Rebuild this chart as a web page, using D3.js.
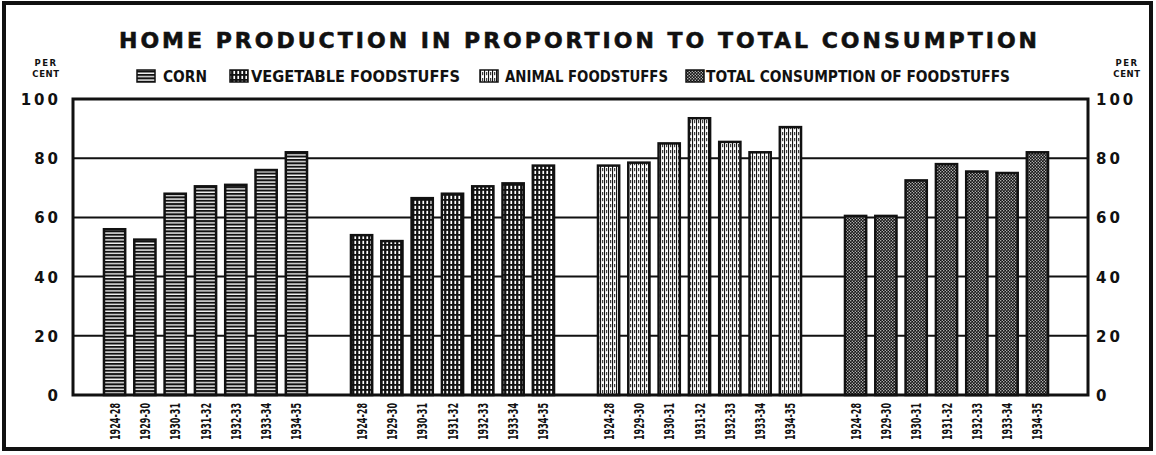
<!DOCTYPE html>
<html><head><meta charset="utf-8">
<script src="https://cdn.jsdelivr.net/npm/d3@7"></script>
<style>
html,body{margin:0;padding:0;background:#fff;}
svg{display:block;}
text{font-family:"DejaVu Sans",sans-serif;font-weight:bold;fill:#111;}
</style></head>
<body><svg id="c" width="1156" height="455"></svg>
<script>
const title = "HOME PRODUCTION IN PROPORTION TO TOTAL CONSUMPTION";
const categories = ["CORN","VEGETABLE FOODSTUFFS","ANIMAL FOODSTUFFS","TOTAL CONSUMPTION OF FOODSTUFFS"];
const periods = ["1924-28","1929-30","1930-31","1931-32","1932-33","1933-34","1934-35"];
const corn = [56,52.5,68,70.5,71,76,82];
const vegetable = [54,52,66.5,68,70.5,71.5,77.5];
const animal = [77.5,78.5,85,93.5,85.5,82,90.5];
const total = [60.5,60.5,72.5,78,75.5,75,82];
const yTicks = [0,20,40,60,80,100];
const seriesValues = [corn, vegetable, animal, total];
const patternIds = ["pCorn","pVeg","pAnim","pTot"];

const svg = d3.select("#c");
const defs = svg.append("defs");
// corn: horizontal stripes
let p = defs.append("pattern").attr("id","pCorn").attr("patternUnits","userSpaceOnUse").attr("width",4).attr("height",3.4);
p.append("rect").attr("width",4).attr("height",3.4).attr("fill","#111");
p.append("rect").attr("y",1.2).attr("width",4).attr("height",1.3).attr("fill","#fff");
// vegetable: white bricks on black
p = defs.append("pattern").attr("id","pVeg").attr("patternUnits","userSpaceOnUse").attr("width",4).attr("height",5);
p.append("rect").attr("width",4).attr("height",5).attr("fill","#111");
p.append("rect").attr("x",1.4).attr("y",0.8).attr("width",1.7).attr("height",3.2).attr("fill","#fff");
// animal: white with vertical dashed lines
p = defs.append("pattern").attr("id","pAnim").attr("patternUnits","userSpaceOnUse").attr("width",4).attr("height",6);
p.append("rect").attr("width",4).attr("height",6).attr("fill","#fff");
p.append("rect").attr("x",0).attr("y",0).attr("width",1.1).attr("height",6).attr("fill","#111");
p.append("rect").attr("x",2.2).attr("y",0).attr("width",1).attr("height",3.2).attr("fill","#111");
// total: fine dots, dark
p = defs.append("pattern").attr("id","pTot").attr("patternUnits","userSpaceOnUse").attr("width",3).attr("height",3);
p.append("rect").attr("width",3).attr("height",3).attr("fill","#111");
p.append("rect").attr("x",0.2).attr("y",0.2).attr("width",1.1).attr("height",1.1).attr("fill","#fff");
p.append("rect").attr("x",1.7).attr("y",1.7).attr("width",1.1).attr("height",1.1).attr("fill","#fff");

// outer frame
svg.append("rect").attr("x",4).attr("y",3).attr("width",1147).attr("height",446)
  .attr("fill","none").attr("stroke","#111").attr("stroke-width",4);

const L=73, R=1088, T=99, B=395;
const y = d3.scaleLinear().domain([0,100]).range([B,T]);
const gx = d3.scaleBand().domain(categories).range([82,1070]).padding(0);
const bx = d3.scaleBand().domain(periods).range([0,gx.bandwidth()]).paddingInner(0.3).paddingOuter(0.725);

// title
svg.append("text").attr("x",578).attr("y",48).attr("text-anchor","middle")
  .attr("font-size",22).attr("stroke","#111").attr("stroke-width",0.6)
  .attr("textLength",918).attr("lengthAdjust","spacing").text(title);

// legend
const legendX = [137, 230, 480, 686];
const legendTextX = [163, 251, 505, 706];
const legendTextLen = [44, 209, 163, 304];
categories.forEach((c,i)=>{
  svg.append("rect").attr("x",legendX[i]).attr("y",70).attr("width",18).attr("height",12)
    .attr("fill","url(#"+patternIds[i]+")").attr("stroke","#111").attr("stroke-width",1.5);
  svg.append("text").attr("x",legendTextX[i]).attr("y",82).attr("font-size",16)
    .attr("textLength",legendTextLen[i]).attr("lengthAdjust","spacingAndGlyphs").text(c);
});

// PER CENT
[46,1127].forEach(cx=>{
  svg.append("text").attr("x",cx).attr("y",66).attr("text-anchor","middle").attr("font-size",8.5)
    .attr("letter-spacing",1.5).text("PER");
  svg.append("text").attr("x",cx).attr("y",77).attr("text-anchor","middle").attr("font-size",8.5)
    .attr("letter-spacing",0.6).text("CENT");
});

// gridlines
svg.append("g").selectAll("line").data(yTicks.filter(d=>d>0&&d<100)).join("line")
  .attr("x1",L).attr("x2",R).attr("y1",d=>y(d)).attr("y2",d=>y(d))
  .attr("stroke","#111").attr("stroke-width",2);

// axes labels via d3 axes
const yAxL = d3.axisLeft(y).tickValues(yTicks).tickSize(0).tickPadding(12);
const gL = svg.append("g").attr("transform",`translate(${L},0)`).call(yAxL);
const yAxR = d3.axisRight(y).tickValues(yTicks).tickSize(0).tickPadding(8);
const gR = svg.append("g").attr("transform",`translate(${R},0)`).call(yAxR);
[gL,gR].forEach(g=>{
  g.select(".domain").remove();
  g.selectAll("text").attr("font-size",15).attr("font-family","DejaVu Sans").attr("font-weight","bold")
    .attr("fill","#111").attr("letter-spacing",3).attr("dy","0.36em");
});

// bars
categories.forEach((c,i)=>{
  const g = svg.append("g").attr("transform",`translate(${gx(c)},0)`);
  g.selectAll("rect").data(seriesValues[i]).join("rect")
    .attr("x",(d,j)=>bx(periods[j])).attr("width",bx.bandwidth())
    .attr("y",d=>y(d)).attr("height",d=>B-y(d))
    .attr("fill","url(#"+patternIds[i]+")").attr("stroke","#111").attr("stroke-width",2.5);
  g.selectAll("text").data(periods).join("text")
    .attr("transform",d=>`translate(${bx(d)+bx.bandwidth()/2+5},${B+8}) rotate(-90)`)
    .attr("text-anchor","end").attr("font-size",14)
    .attr("textLength",37).attr("lengthAdjust","spacingAndGlyphs").text(d=>d);
});

// plot frame
svg.append("path").attr("d",`M${L},${T}H${R}V${B}H${L}Z`).attr("fill","none")
  .attr("stroke","#111").attr("stroke-width",3);
</script></body></html>
